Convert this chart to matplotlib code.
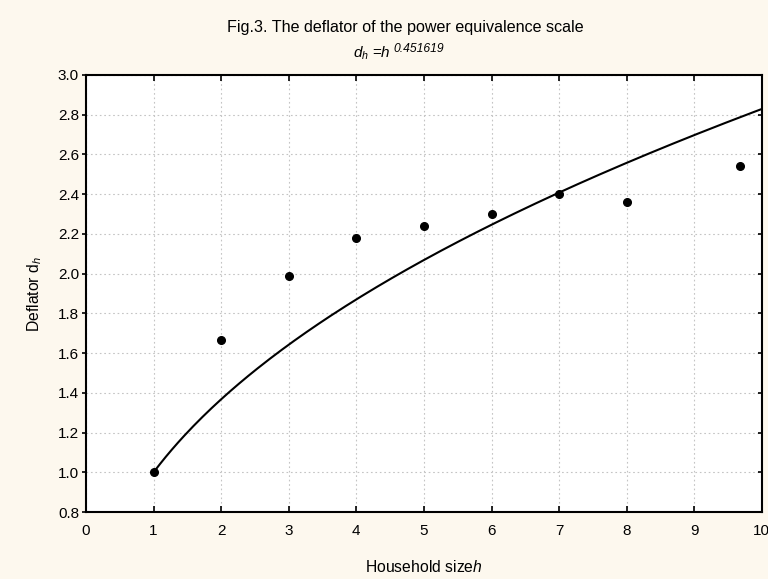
import matplotlib
matplotlib.use("Agg")
import matplotlib.pyplot as plt
import numpy as np

plt.rcParams["font.family"] = ["Liberation Sans", "DejaVu Sans"]
plt.rcParams["mathtext.fontset"] = "custom"
plt.rcParams["mathtext.rm"] = "Liberation Sans"
plt.rcParams["mathtext.it"] = "Liberation Sans:italic"

# observed deflator values by household size
household_size = [1, 2, 3, 4, 5, 6, 7, 8, 9.67]
deflator = [1.00, 1.666, 1.987, 2.178, 2.239, 2.30, 2.401, 2.359, 2.541]

# fitted power equivalence scale
exponent = 0.451619
h_fit = np.linspace(1, 10, 200)
d_fit = h_fit ** exponent

x_ticks = list(range(0, 11))
y_ticks = [0.8, 1.0, 1.2, 1.4, 1.6, 1.8, 2.0, 2.2, 2.4, 2.6, 2.8, 3.0]

bg = "#fdf8ee"
fig = plt.figure(figsize=(7.68, 5.79), dpi=100, facecolor=bg)
ax = fig.add_axes([0.112, 0.1157, 0.88, 0.7548])
ax.set_facecolor("white")

ax.plot(h_fit, d_fit, color="black", linewidth=1.5, zorder=3)
ax.plot(household_size, deflator, "o", color="black", markersize=5.5, zorder=4)

ax.set_xlim(0, 10)
ax.set_ylim(0.8, 3.0)
ax.set_xticks(x_ticks)
ax.set_yticks(y_ticks)
ax.set_yticklabels([f"{v:.1f}" for v in y_ticks])
ax.grid(True, color="#c4c4c4", linestyle=(0, (1.5, 2.5)), linewidth=0.8)

for s in ax.spines.values():
    s.set_linewidth(1.5)
    s.set_color("black")

ax.tick_params(axis="x", direction="in", top=True, length=4, width=1.2,
               labelsize=11, pad=8.5)
ax.tick_params(axis="y", direction="out", left=True, length=3, width=1.2,
               labelsize=11, pad=2)
ax.tick_params(axis="y", which="both", right=True)
# right-hand ticks point inwards
for t in ax.yaxis.get_ticklines()[1::2]:
    t.set_marker(matplotlib.lines.TICKLEFT)
    t.set_markersize(3)

ax.set_xlabel(r"Household size$h$", fontsize=11.3, labelpad=15.5)
ax.set_ylabel(r"Deflator d$_h$", fontsize=11.3, labelpad=10)

fig.text(405 / 768, 1 - 32 / 579, "Fig.3. The deflator of the power equivalence scale",
         ha="center", va="baseline", fontsize=11.6)
sub = fig.text(353 / 768, 1 - 58 / 579, r"$d_h$ =$h$",
               ha="left", va="baseline", fontsize=11)
fig.canvas.draw()
bb = sub.get_window_extent()
# exponent as a separate italic text, raised after "h"
fig.text((bb.x1 + 3) / fig.bbox.width, 1 - 52 / 579, f"{exponent}",
         fontsize=8.7, style="italic", ha="left", va="baseline")

plt.savefig("out.png", dpi=100, facecolor=bg)
plt.close()
